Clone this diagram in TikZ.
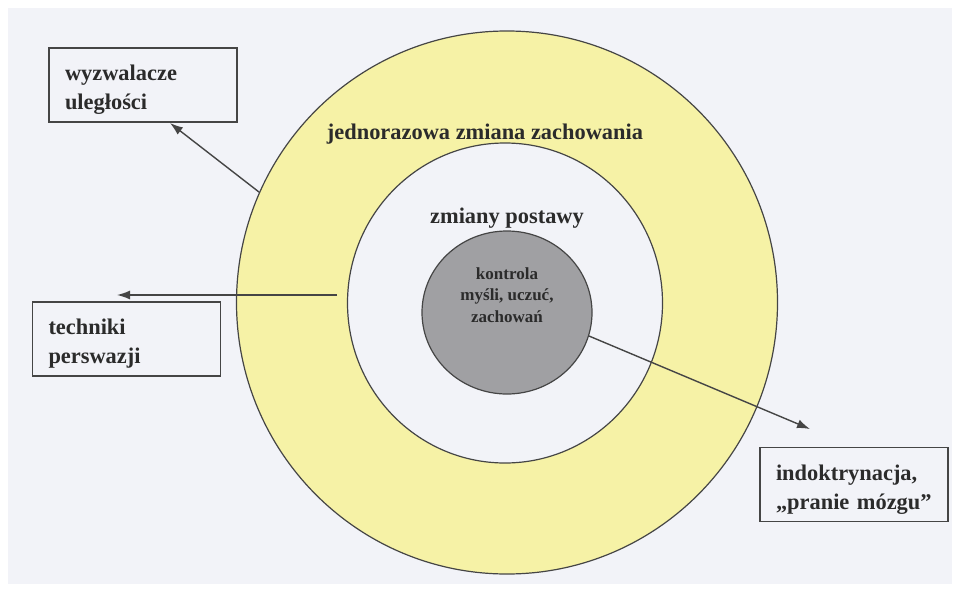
\documentclass[tikz,border=0pt]{standalone}
\usepackage{fontspec}
\setmainfont{Liberation Serif}
\usetikzlibrary{arrows.meta,shapes.geometric}
\definecolor{papier}{HTML}{F2F3F8}
\definecolor{gelb}{HTML}{F6F2A6}
\definecolor{grau}{HTML}{A0A0A3}
\definecolor{linie}{HTML}{454545}
\definecolor{schrift}{HTML}{2B2B2B}
\tikzset{
  ring/.style={ellipse,draw=linie,line width=1.2pt,inner sep=0pt},
  kasten/.style={draw=linie,line width=1.6pt,text width=156pt,inner xsep=16pt,
    minimum height=74pt,align=left,text=schrift,
    execute at begin node={\rule{0pt}{25pt}},
    font=\bfseries\fontsize{22.4}{29}\selectfont},
  titel/.style={text=schrift,font=\bfseries\fontsize{22.4}{29}\selectfont},
  kern/.style={text=schrift,align=center,font=\bfseries\fontsize{17}{21.5}\selectfont},
  pfeil/.style={-{Latex[length=13pt,width=9pt]},linie,line width=1.4pt},
}
\begin{document}
\begin{tikzpicture}[x=1pt,y=-1pt]
  \useasboundingbox (0,0) rectangle (957,589);
  \fill[white] (0,0) rectangle (957,589);
  \fill[papier] (8,8) rectangle (952,584);
  % Ringe
  \node[ring,fill=gelb,minimum width=541pt,minimum height=543pt] (aussen) at (507,302.5) {};
  \node[ring,fill=papier,minimum width=315pt,minimum height=320pt] (innen) at (505,303) {};
  \node[ring,fill=grau,minimum width=170pt,minimum height=163pt] (mitte) at (507,312.5) {};
  \node[titel] (jedno) at (485,134) {jednorazowa zmiana zachowania};
  \node[titel] (postawa) at (507,218) {zmiany postawy};
  \node[kern] (kontrola) at (507,295) {kontrola\\myśli, uczuć,\\zachowań};
  % Kaesten
  \node[kasten] (wyzw) at (143,85) {wyzwalacze\\uległości};
  \node[kasten] (techn) at (126.5,339) {techniki\\perswazji};
  \node[kasten] (indok) at (854,484.5) {indoktrynacja,\\„pranie mózgu”};
  % Pfeile
  \coordinate (startB) at (337,295);
  \coordinate (zielA) at (170,123);
  \coordinate (zielB) at (117,295);
  \coordinate (zielC) at (810,429);
  \draw[pfeil] (aussen.156.7) -- (zielA);
  \draw[pfeil] (startB) -- (zielB);
  \draw[pfeil] (mitte.-16.8) -- (zielC);
\end{tikzpicture}
\end{document}
